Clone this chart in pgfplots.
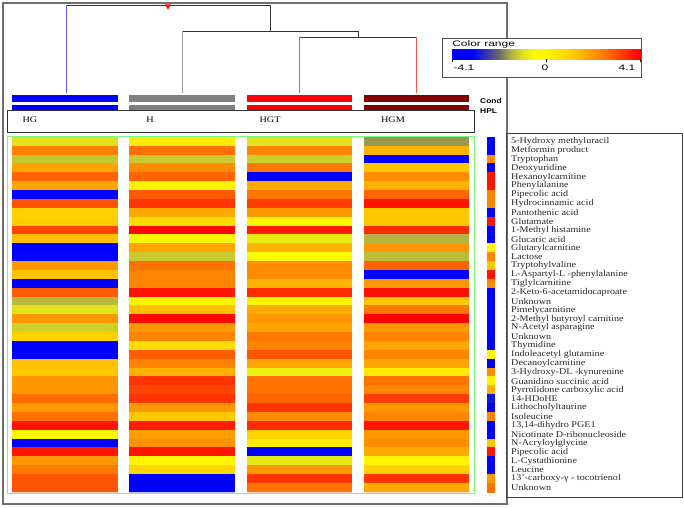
\documentclass[border=0pt]{standalone}
\usepackage{fontspec}
\setmainfont{Liberation Serif}
\setsansfont{Liberation Sans}
\usepackage{pgfplots}
\pgfplotsset{compat=1.18}

\definecolor{frame}{RGB}{110,110,110}
\definecolor{dgray}{RGB}{50,50,50}
\definecolor{lgray}{RGB}{160,160,160}
\definecolor{dblue}{RGB}{90,90,255}
\definecolor{dredline}{RGB}{240,90,70}
\definecolor{cgray}{RGB}{128,128,128}
\definecolor{cdred}{RGB}{128,0,0}
\definecolor{lgreen}{RGB}{120,250,120}

% colormap: positions are (value+4.1)*10
\pgfplotsset{colormap={heat}{rgb255(0pt)=(0,0,255) rgb255(9pt)=(0,0,255)
  rgb255(20pt)=(100,100,110) rgb255(26pt)=(180,180,65) rgb255(31pt)=(225,225,30)
  rgb255(36pt)=(250,250,5) rgb255(41pt)=(255,245,0) rgb255(47pt)=(255,225,0)
  rgb255(51pt)=(255,210,0) rgb255(58pt)=(255,170,0) rgb255(63pt)=(255,140,0)
  rgb255(69pt)=(255,100,0) rgb255(74pt)=(255,60,0) rgb255(79pt)=(255,20,0)
  rgb255(82pt)=(255,0,0)}}

\begin{document}
\begin{tikzpicture}
\begin{axis}[
    at={(0pt,0pt)}, anchor=south west,
    scale only axis, width=684pt, height=507pt,
    xmin=0, xmax=684, ymin=0, ymax=507, y dir=reverse,
    axis lines=none, clip=false,
    colormap name=heat, point meta min=-4.1, point meta max=4.1
]
% frames
\draw[frame, line width=1.5pt] (axis cs:3,3) rectangle (axis cs:507,504);
\draw[black!75, line width=0.8pt] (axis cs:506,133) rectangle (axis cs:682,497);

% dendrogram
\addplot[dgray, line width=1pt] coordinates {(66,5) (270,5) (270,31)};
\addplot[dblue, line width=1pt] coordinates {(66,5) (66,93)};
\addplot[dgray, line width=1pt] coordinates {(182,31) (358,31) (358,37)};
\addplot[lgray, line width=1pt] coordinates {(182,31) (182,93)};
\addplot[dgray, line width=1pt] coordinates {(299,37) (416,37)};
\addplot[dredline, line width=1pt] coordinates {(299,37) (299,93)};
\addplot[dredline, line width=1pt] coordinates {(416,37) (416,93)};
\addplot[only marks, mark=triangle*, mark size=3pt, red, mark options={rotate=180}] coordinates {(168,6)};

% Cond / HPL bars
\addplot[fill=blue, draw=none] coordinates {(12,95) (118,95) (118,102) (12,102)};
\addplot[fill=cgray, draw=none] coordinates {(129,95) (235,95) (235,102) (129,102)};
\addplot[fill=red, draw=none] coordinates {(247,95) (352,95) (352,102) (247,102)};
\addplot[fill=cdred, draw=none] coordinates {(364,95) (469,95) (469,102) (364,102)};
\addplot[fill=blue, draw=none] coordinates {(12,105) (118,105) (118,111) (12,111)};
\addplot[fill=cgray, draw=none] coordinates {(129,105) (235,105) (235,111) (129,111)};
\addplot[fill=red, draw=none] coordinates {(247,105) (352,105) (352,111) (247,111)};
\addplot[fill=cdred, draw=none] coordinates {(364,105) (469,105) (469,111) (364,111)};
\node[anchor=west, inner sep=0, font=\sffamily\bfseries\fontsize{7}{8}\selectfont, xscale=1.2] at (axis cs:480,100.5) {Cond};
\node[anchor=west, inner sep=0, font=\sffamily\bfseries\fontsize{7}{8}\selectfont, xscale=1.2] at (axis cs:480,111.5) {HPL};

% group label box
\draw[black!80, fill=white, line width=0.8pt] (axis cs:7,110) rectangle (axis cs:474,132);
\node[font=\fontsize{8.5}{10}\selectfont, xscale=1.2] at (axis cs:30,119.5) {HG};
\node[font=\fontsize{8.5}{10}\selectfont, xscale=1.2] at (axis cs:150,119.5) {H};
\node[font=\fontsize{8.5}{10}\selectfont, xscale=1.2] at (axis cs:270,119.5) {HGT};
\node[font=\fontsize{8.5}{10}\selectfont, xscale=1.2] at (axis cs:393,119.5) {HGM};

% heatmap: columns HG, H, HGT, HGM ; rows 1..40 top to bottom
\addplot[matrix plot*, mesh/cols=4, point meta=explicit,
    x filter/.expression={65+117.17*x},
    y filter/.expression={137+8.875*(y-0.5)}] coordinates {
(0,1)[-1.0] (1,1)[0.3] (2,1)[-1.0] (3,1)[-1.7]
(0,2)[2.4] (1,2)[2.6] (2,2)[2.3] (3,2)[1.5]
(0,3)[-1.3] (1,3)[-1.25] (2,3)[-1.2] (3,3)[-4.1]
(0,4)[1.8] (1,4)[2.2] (2,4)[2.5] (3,4)[1.2]
(0,5)[2.8] (1,5)[2.8] (2,5)[-4.1] (3,5)[2.2]
(0,6)[1.8] (1,6)[0.1] (2,6)[1.7] (3,6)[1.6]
(0,7)[-4.1] (1,7)[2.9] (2,7)[2.5] (3,7)[2.8]
(0,8)[3.0] (1,8)[3.4] (2,8)[3.3] (3,8)[3.8]
(0,9)[1.0] (1,9)[1.7] (2,9)[2.0] (3,9)[1.2]
(0,10)[1.1] (1,10)[0.7] (2,10)[0.0] (3,10)[1.2]
(0,11)[3.2] (1,11)[4.0] (2,11)[3.7] (3,11)[3.5]
(0,12)[1.3] (1,12)[-0.5] (2,12)[-0.8] (3,12)[-1.5]
(0,13)[-4.1] (1,13)[1.8] (2,13)[1.5] (3,13)[2.0]
(0,14)[-4.1] (1,14)[-1.25] (2,14)[-0.5] (3,14)[-1.4]
(0,15)[2.0] (1,15)[2.6] (2,15)[2.2] (3,15)[2.8]
(0,16)[1.3] (1,16)[2.3] (2,16)[2.2] (3,16)[-4.1]
(0,17)[-4.1] (1,17)[2.3] (2,17)[1.5] (3,17)[2.0]
(0,18)[2.9] (1,18)[3.8] (2,18)[3.5] (3,18)[3.9]
(0,19)[-1.45] (1,19)[0.0] (2,19)[0.0] (3,19)[1.2]
(0,20)[-1.0] (1,20)[1.3] (2,20)[1.7] (3,20)[2.5]
(0,21)[2.0] (1,21)[4.0] (2,21)[2.0] (3,21)[4.1]
(0,22)[-1.2] (1,22)[2.0] (2,22)[1.8] (3,22)[2.0]
(0,23)[1.0] (1,23)[2.3] (2,23)[2.5] (3,23)[2.3]
(0,24)[-4.1] (1,24)[0.7] (2,24)[2.3] (3,24)[1.8]
(0,25)[-4.1] (1,25)[2.9] (2,25)[3.0] (3,25)[2.3]
(0,26)[1.3] (1,26)[2.3] (2,26)[1.8] (3,26)[1.8]
(0,27)[1.2] (1,27)[1.6] (2,27)[-0.7] (3,27)[0.3]
(0,28)[2.0] (1,28)[3.4] (2,28)[2.6] (3,28)[2.6]
(0,29)[2.0] (1,29)[3.2] (2,29)[2.6] (3,29)[2.3]
(0,30)[2.7] (1,30)[3.4] (2,30)[2.8] (3,30)[3.3]
(0,31)[2.0] (1,31)[2.0] (2,31)[3.4] (3,31)[2.0]
(0,32)[2.6] (1,32)[1.2] (2,32)[2.2] (3,32)[2.3]
(0,33)[3.8] (1,33)[3.7] (2,33)[3.5] (3,33)[3.8]
(0,34)[0.0] (1,34)[1.9] (2,34)[1.0] (3,34)[2.0]
(0,35)[-4.1] (1,35)[2.1] (2,35)[0.2] (3,35)[2.2]
(0,36)[3.8] (1,36)[3.8] (2,36)[-4.1] (3,36)[1.7]
(0,37)[2.0] (1,37)[0.0] (2,37)[-0.9] (3,37)[0.0]
(0,38)[2.5] (1,38)[0.9] (2,38)[2.0] (3,38)[1.0]
(0,39)[3.0] (1,39)[-4.1] (2,39)[3.4] (3,39)[3.4]
(0,40)[3.0] (1,40)[-4.1] (2,40)[2.6] (3,40)[1.7]
};
% white gutters between the groups
\fill[white] (axis cs:5,135) rectangle (axis cs:12,494);
\fill[white] (axis cs:118,135) rectangle (axis cs:129,494);
\fill[white] (axis cs:235,135) rectangle (axis cs:247,494);
\fill[white] (axis cs:352,135) rectangle (axis cs:364,494);
\fill[white] (axis cs:469,135) rectangle (axis cs:478,494);
\draw[lgreen, line width=1pt] (axis cs:7,136) rectangle (axis cs:474,493);

% row annotation strip
\addplot[matrix plot*, mesh/cols=2, point meta=explicit,
    x filter/.expression={488.75+3.5*x},
    y filter/.expression={137+8.875*(y-0.5)}] coordinates {
(0,1)[-4.1] (1,1)[-4.1]
(0,2)[-4.1] (1,2)[-4.1]
(0,3)[2.2] (1,3)[2.2]
(0,4)[-4.1] (1,4)[-4.1]
(0,5)[3.8] (1,5)[3.8]
(0,6)[3.8] (1,6)[3.8]
(0,7)[2.3] (1,7)[2.3]
(0,8)[2.3] (1,8)[2.3]
(0,9)[-4.1] (1,9)[-4.1]
(0,10)[3.8] (1,10)[3.8]
(0,11)[-4.1] (1,11)[-4.1]
(0,12)[-4.1] (1,12)[-4.1]
(0,13)[0.0] (1,13)[0.0]
(0,14)[2.3] (1,14)[2.3]
(0,15)[1.2] (1,15)[1.2]
(0,16)[3.8] (1,16)[3.8]
(0,17)[2.2] (1,17)[2.2]
(0,18)[-4.1] (1,18)[-4.1]
(0,19)[-4.1] (1,19)[-4.1]
(0,20)[-4.1] (1,20)[-4.1]
(0,21)[-4.1] (1,21)[-4.1]
(0,22)[-4.1] (1,22)[-4.1]
(0,23)[-4.1] (1,23)[-4.1]
(0,24)[-3.8] (1,24)[-3.8]
(0,25)[0.0] (1,25)[0.0]
(0,26)[-4.1] (1,26)[-4.1]
(0,27)[2.2] (1,27)[2.2]
(0,28)[0.0] (1,28)[0.0]
(0,29)[1.6] (1,29)[1.6]
(0,30)[-3.0] (1,30)[-3.0]
(0,31)[-4.1] (1,31)[-4.1]
(0,32)[2.3] (1,32)[2.3]
(0,33)[-4.1] (1,33)[-4.1]
(0,34)[-4.1] (1,34)[-4.1]
(0,35)[1.2] (1,35)[1.2]
(0,36)[3.8] (1,36)[3.8]
(0,37)[-4.1] (1,37)[-4.1]
(0,38)[-4.1] (1,38)[-4.1]
(0,39)[2.0] (1,39)[2.0]
(0,40)[2.6] (1,40)[2.6]
};

% colour range legend
\draw[frame!70!black, fill=white, line width=0.8pt] (axis cs:442,38) rectangle (axis cs:641,77);
\node[anchor=west, inner sep=0, font=\sffamily\fontsize{8}{9}\selectfont, xscale=1.5] at (axis cs:452,44) {Color range};
\addplot[surf, shader=interp, point meta=explicit, mesh/rows=2] coordinates {
(452,49)[-4.1] (640,49)[4.1]
(452,59)[-4.1] (640,59)[4.1]
};
\draw[black] (axis cs:452,59) -- (axis cs:452,62);
\draw[black] (axis cs:546,59) -- (axis cs:546,62);
\draw[black] (axis cs:640,59) -- (axis cs:640,62);
\node[font=\sffamily\fontsize{8}{9}\selectfont, xscale=1.5] at (axis cs:464,67.5) {-4.1};
\node[font=\sffamily\fontsize{8}{9}\selectfont, xscale=1.5] at (axis cs:545,67.5) {0};
\node[font=\sffamily\fontsize{8}{9}\selectfont, xscale=1.5] at (axis cs:627,67.5) {4.1};
\end{axis}

% metabolite names, one per heatmap row
\foreach \lab [count=\k] in {5-Hydroxy methyluracil, Metformin product, Tryptophan,
  Deoxyuridine, Hexanoylcarnitine, Phenylalanine, Pipecolic acid, Hydrocinnamic acid,
  Pantothenic acid, Glutamate, 1-Methyl histamine, Glucaric acid, Glutarylcarnitine,
  Lactose, Tryptohylvaline, L-Aspartyl-L -phenylalanine, Tiglylcarnitine,
  2-Keto-6-acetamidocaproate, Unknown, Pimelycarnitine, 2-Methyl butyroyl carnitine,
  N-Acetyl asparagine, Unknown, Thymidine, Indoleacetyl glutamine, Decanoylcarnitine,
  3-Hydroxy-DL -kynurenine, Guanidino succinic acid, Pyrrolidone carboxylic acid,
  14-HDoHE, Lithocholyltaurine, Isoleucine, {13,14-dihydro PGE1},
  Nicotinate D-ribonucleoside, N-Acryloylglycine, Pipecolic acid, L-Cystathionine,
  Leucine, 13'-carboxy-γ - tocotrienol, Unknown}
  \node[anchor=west, inner sep=0, text=black!85, font=\fontsize{8.8}{9}\selectfont, xscale=1.15]
    at (511pt, {370pt-8.875pt*(\k-0.5)}) {\lab};
\path (0,0) rectangle (684pt,507pt);
\end{tikzpicture}
\end{document}
